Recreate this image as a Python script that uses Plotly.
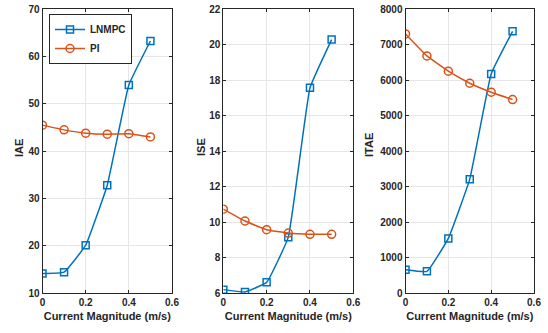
import plotly.graph_objects as go

x_vals = [0, 0.1, 0.2, 0.3, 0.4, 0.5]
iae_lnmpc = [14.1, 14.4, 20.1, 32.8, 54.0, 63.3]
iae_pi = [45.5, 44.5, 43.8, 43.6, 43.7, 43.0]
ise_lnmpc = [6.19, 6.06, 6.6, 9.15, 17.57, 20.29]
ise_pi = [10.73, 10.06, 9.57, 9.38, 9.31, 9.31]
itae_lnmpc = [656, 610, 1540, 3211, 6178, 7380]
itae_pi = [7305, 6685, 6254, 5915, 5662, 5455]
y_titles = ["IAE", "ISE", "ITAE"]
y_ranges = [[10, 70], [6, 22], [0, 8000]]
y_dticks = [10, 2, 1000]

BLUE = "#0072BD"
ORANGE = "#D95319"
W, H = 548, 333
FONT = "Liberation Sans"
INK = "#262626"

fig = go.Figure()
series = [(iae_lnmpc, iae_pi), (ise_lnmpc, ise_pi), (itae_lnmpc, itae_pi)]
xdoms = [(42.5, 172), (223.3, 353.3), (405.5, 534)]
ydom = [(H - 293) / H, (H - 9.3) / H]
ytitle_pos = [(19, 148), (201, 147), (369, 145)]

for i, (lm, pi) in enumerate(series):
    sfx = "" if i == 0 else str(i + 1)
    fig.add_trace(go.Scatter(
        x=x_vals, y=lm, name="LNMPC", mode="lines+markers",
        line=dict(color=BLUE, width=1.5, shape="spline", smoothing=0.3),
        marker=dict(symbol="square-open", size=7, color=BLUE, line=dict(width=1.5)),
        xaxis="x" + sfx, yaxis="y" + sfx, showlegend=(i == 0)))
    fig.add_trace(go.Scatter(
        x=x_vals, y=pi, name="PI", mode="lines+markers",
        line=dict(color=ORANGE, width=1.5, shape="spline", smoothing=0.3),
        marker=dict(symbol="circle-open", size=8, color=ORANGE, line=dict(width=1.5)),
        xaxis="x" + sfx, yaxis="y" + sfx, showlegend=(i == 0)))

axfont = dict(family=FONT, size=10, color=INK, weight="bold")
titlefont = dict(family=FONT, size=11, color=INK, weight="bold")
for i in range(3):
    sfx = "" if i == 0 else str(i + 1)
    fig.layout["xaxis" + sfx] = dict(
        domain=[xdoms[i][0] / W, xdoms[i][1] / W], anchor="y" + sfx,
        range=[0, 0.6], dtick=0.2, tickformat="~g", automargin=False,
        showline=True, linecolor=INK, linewidth=1, mirror="allticks",
        ticks="inside", ticklen=3, tickcolor=INK,
        showgrid=True, gridcolor="#E6E6E6", zeroline=False,
        tickfont=axfont,
        title=dict(text="Current Magnitude (m/s)", font=titlefont, standoff=5),
    )
    fig.layout["yaxis" + sfx] = dict(
        domain=ydom, anchor="x" + sfx, automargin=False,
        range=y_ranges[i], dtick=y_dticks[i],
        showline=True, linecolor=INK, linewidth=1, mirror="allticks",
        ticks="inside", ticklen=3, tickcolor=INK,
        showgrid=True, gridcolor="#E6E6E6", zeroline=False,
        tickfont=axfont,
    )
    fig.add_annotation(
        text=y_titles[i], xref="paper", yref="paper",
        x=ytitle_pos[i][0] / W, y=1 - ytitle_pos[i][1] / H,
        xanchor="center", yanchor="middle", textangle=-90,
        showarrow=False, font=titlefont)

fig.update_layout(
    width=W, height=H,
    margin=dict(l=0, r=0, t=0, b=0, autoexpand=False),
    paper_bgcolor="white", plot_bgcolor="white",
    font=dict(family=FONT, size=10, color=INK),
    legend=dict(x=49 / W, y=1 - 14 / H, xanchor="left", yanchor="top",
                bordercolor=INK, borderwidth=1, bgcolor="white",
                font=dict(family=FONT, size=10, color=INK, weight="bold"),
                tracegroupgap=0, itemwidth=30),
)

fig.write_html("out.html", config={"displayModeBar": False},
               post_script="document.body.style.margin='0';")
